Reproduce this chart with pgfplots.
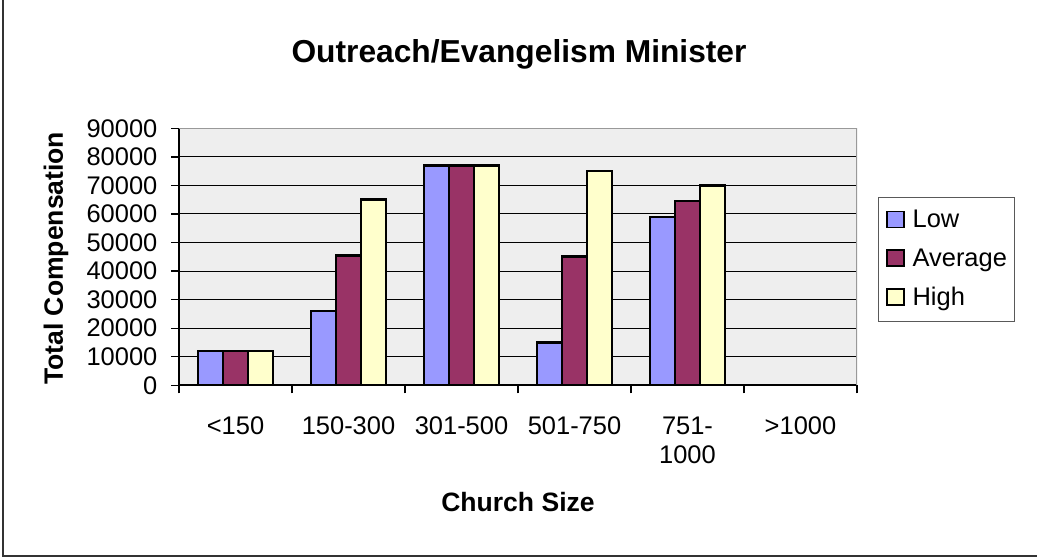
\documentclass[border=0pt]{standalone}
\usepackage{fontspec}
\setmainfont{Liberation Sans}
\usepackage{pgfplots}
\pgfplotsset{compat=1.18}
\definecolor{cLow}{RGB}{153,153,255}
\definecolor{cAvg}{RGB}{153,51,102}
\definecolor{cHigh}{RGB}{255,255,204}
\definecolor{plotbg}{RGB}{238,238,238}
\newcommand{\regfont}{\fontsize{19.1pt}{22.3pt}\selectfont}
\newcommand{\labfont}{\fontsize{19.9pt}{23pt}\selectfont\bfseries}
\newcommand{\titfont}{\fontsize{23.8pt}{28pt}\selectfont\bfseries}
\begin{document}
\begin{tikzpicture}[x=0.75pt,y=0.75pt]
\path[use as bounding box] (0,0) rectangle (1037,558);
\draw[line width=1.5pt, black!80] (2.5,570) -- (2.5,2) -- (1045,2);
\begin{axis}[
  at={(134.25pt,129.525pt)}, anchor=south west,
  scale only axis, width=508.5pt, height=192.75pt,
  xmin=-0.5, xmax=5.5, ymin=0, ymax=90000,
  axis background/.style={fill=plotbg},
  axis x line*=bottom, axis y line*=left,
  axis line style={black, line width=1.3pt},
  ytick={0,10000,...,90000},
  yticklabels={0,10000,20000,30000,40000,50000,60000,70000,80000,90000},
  scaled y ticks=false,
  xtick={-0.5,0.5,...,5.5},
  x tick label as interval,
  xticklabels={{<150},{150-300},{301-500},{501-750},{751-\\1000},{>1000}},
  tick align=outside, major tick length=6pt,
  tick style={black, line width=1pt},
  ymajorgrids, grid style={black, line width=0.75pt},
  yticklabel style={font=\regfont, anchor=east, inner sep=0pt, xshift=-10pt},
  xticklabel style={font=\regfont, anchor=north, align=center, inner sep=0pt, yshift=-17.25pt},
  title={Outreach/Evangelism Minister},
  title style={at={(axis description cs:0.5015,1.225)}, anchor=base, font=\titfont, inner sep=0pt},
  xlabel={Church Size},
  xlabel style={at={(axis description cs:0.5,-0.491)}, anchor=base, font=\labfont, inner sep=0pt},
  ylabel={Total Compensation},
  ylabel style={at={(axis description cs:-0.1711,0.494)}, anchor=base, font=\labfont, inner sep=0pt},
  legend style={at={(axis description cs:1.031,0.7327)}, anchor=north west,
    draw=gray!70!black, line width=0.75pt, fill=white, font=\regfont,
    inner xsep=5.5pt, inner ysep=9.8pt, row sep=14.3pt, column sep=6pt,
    nodes={inner sep=0pt, text height=0.72em, text depth=0.2em}},
  legend cell align=left,
  legend image code/.code={\draw[#1, line width=1.3pt] (0pt,-2.4pt) rectangle (12.75pt,9.6pt);},
]
\addplot[ybar, bar width=18.75pt, bar shift=-18.75pt, fill=cLow, draw=black, line width=2pt]
  coordinates {(0,12000) (1,26000) (2,77000) (3,15000) (4,59000)};
\addlegendentry{Low}
\addplot[ybar, bar width=18.75pt, bar shift=0pt, fill=cAvg, draw=black, line width=2pt]
  coordinates {(0,12000) (1,45500) (2,77000) (3,45000) (4,64500)};
\addlegendentry{Average}
\addplot[ybar, bar width=18.75pt, bar shift=18.75pt, fill=cHigh, draw=black, line width=2pt]
  coordinates {(0,12000) (1,65000) (2,77000) (3,75000) (4,70000)};
\addlegendentry{High}
\draw[gray!80, line width=1.5pt] (rel axis cs:0,1) -- (rel axis cs:1,1) -- (rel axis cs:1,0);
\end{axis}
\end{tikzpicture}
\end{document}
